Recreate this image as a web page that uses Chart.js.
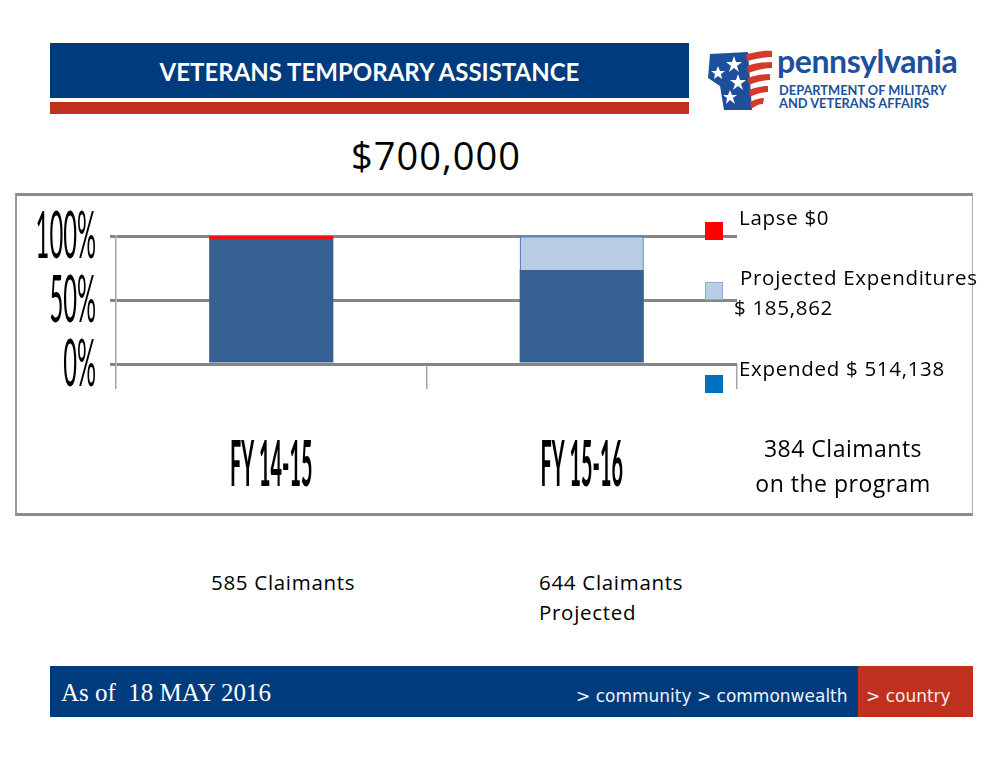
<!DOCTYPE html>
<html>
<head>
<meta charset="utf-8">
<script src="https://cdn.jsdelivr.net/npm/chart.js@4.4.1/dist/chart.umd.min.js"></script>
<style>
body{margin:0;width:1008px;height:768px;position:relative;background:#fff;font-family:"Open Sans",Lato,sans-serif;overflow:hidden}
.abs{position:absolute;white-space:nowrap}
#hdrBlue{left:50px;top:43px;width:639px;height:55px;background:#003b7d}
#hdrRed{left:50px;top:102px;width:639px;height:12px;background:#c0301f}
#title{left:50px;top:43px;width:639px;height:55px;line-height:57px;text-align:center;color:#fff;font-weight:bold;font-size:24px;font-family:Lato,sans-serif}
#logoTxt1{left:777px;top:41px;font-size:32px;font-weight:bold;color:#1c4f9c;letter-spacing:-0.4px;font-family:Lato,sans-serif}
#logoTxt2{left:779px;top:84px;font-size:13.5px;font-weight:bold;color:#1c4f9c;line-height:13px;transform:scaleX(0.95);transform-origin:left top;font-family:Lato,sans-serif}
#amount{left:351px;top:129px;font-size:38px;letter-spacing:1px;color:#000}
#box{left:15px;top:193px;width:955px;height:317px;border-top:3px solid #8c8c8c;border-bottom:3px solid #8c8c8c;border-left:2px solid #9a9a9a;border-right:1px solid #b0b0b0}
#wrap{left:15px;top:193px;width:957px;height:322px}
.leg{font-size:20.5px;letter-spacing:0.7px;color:#000}
.sq{width:18px;height:18px}
#claim3{left:740px;top:431px;width:206px;text-align:center;font-size:23px;letter-spacing:0.5px;line-height:35px}
.note{font-size:20.5px;letter-spacing:0.7px;line-height:30px}
#ftBlue{left:50px;top:666px;width:808px;height:51px;background:#003b7d}
#ftRed{left:858px;top:666px;width:115px;height:51px;background:#c0301f}
#asof{left:61px;top:679px;font-family:"Liberation Serif",serif;font-size:25px;color:#fff}
#crumb{left:576px;top:686px;font-size:17px;color:#eef3fb;font-family:"DejaVu Sans",sans-serif}
#country{left:866px;top:686px;font-size:17px;color:#f6ece9;font-family:"DejaVu Sans",sans-serif}
#tick{left:851px;top:664px;font-size:10px;color:#fff;font-family:"DejaVu Sans",sans-serif}
</style>
</head>
<body>
<div class="abs" id="hdrBlue"></div>
<div class="abs" id="hdrRed"></div>
<div class="abs" id="title">VETERANS TEMPORARY ASSISTANCE</div>
<svg class="abs" style="left:708px;top:48px" width="66" height="64" viewBox="0 0 66 64">
  <polygon points="2,6 40,4 44,62 16,62 12,38 0,30" fill="#1c4f9c"/>
  <path d="M38,6 C48,4 56,2 64,3 L64,9 C56,9 48,11 39,13 Z" fill="#d33a2c"/>
  <path d="M39,18 C48,15 56,14 64,14 L64,20 C56,20 48,22 40,25 Z" fill="#d33a2c"/>
  <path d="M40,30 C48,27 56,26 62,26 L62,32 C56,32 48,34 41,37 Z" fill="#d33a2c"/>
  <path d="M41,42 C48,39 54,38 60,38 L60,44 C54,44 48,46 42,49 Z" fill="#d33a2c"/>
  <path d="M42,54 C48,51 52,50 56,50 L55,56 C51,56 47,58 43,61 Z" fill="#d33a2c"/>
  <g fill="#fff">
    <polygon points="26,8 28,14 34,14 29,18 31,24 26,20 21,24 23,18 18,14 24,14"/>
    <polygon points="10,18 12,23 17,23 13,26 14,31 10,28 6,31 7,26 3,23 8,23"/>
    <polygon points="30,26 32,32 38,32 33,36 35,42 30,38 25,42 27,36 22,32 28,32"/>
    <polygon points="22,42 24,47 29,47 25,50 27,56 22,52 18,56 19,50 15,47 20,47"/>
  </g>
</svg>
<div class="abs" id="logoTxt1">pennsylvania</div>
<div class="abs" id="logoTxt2">DEPARTMENT OF MILITARY<br>AND VETERANS AFFAIRS</div>
<div class="abs" id="amount">$700,000</div>

<div class="abs" id="box"></div>
<div class="abs" id="wrap"><canvas id="myChart"></canvas></div>

<div class="abs sq" style="left:705px;top:222px;background:#ff0000"></div>
<div class="abs sq" style="left:705px;top:282px;background:#b9cde5;border:1px solid #8eaad0;width:16px;height:16px"></div>
<div class="abs sq" style="left:705px;top:375px;background:#0070c0"></div>
<div class="abs leg" style="left:739px;top:203px">Lapse $0</div>
<div class="abs leg" style="left:740px;top:263px">Projected Expenditures</div>
<div class="abs leg" style="left:734px;top:293px">$ 185,862</div>
<div class="abs leg" style="left:739px;top:354px">Expended $ 514,138</div>
<div class="abs" id="claim3">384 Claimants<br>on the program</div>

<div class="abs note" style="left:211px;top:567px">585 Claimants</div>
<div class="abs note" style="left:539px;top:567px">644 Claimants<br>Projected</div>

<div class="abs" id="ftBlue"></div>
<div class="abs" id="ftRed"></div>
<div class="abs" id="tick">`</div>
<div class="abs" id="asof">As of &nbsp;18 MAY 2016</div>
<div class="abs" id="crumb">&gt; community &gt; commonwealth</div>
<div class="abs" id="country">&gt; country</div>

<script>
var categories = ["FY 14-15", "FY 15-16"];
// share of the $700,000 budget, in percent
var expended = [97.6, 73.4];
var projected = [0, 26.6];
var lapse = [2.4, 0];
var yTickValues = [0, 50, 100];

// squeezed tall labels, like the stretched text of the slide
var squeezedLabels = {
    id: 'squeezedLabels',
    afterDraw: function(chart){
        var ctx = chart.ctx;
        var ys = chart.scales.y;
        var xs = chart.scales.x;
        ctx.save();
        ctx.fillStyle = '#000';
        ctx.font = '66px Lato';
        ctx.textBaseline = 'middle';
        ys.ticks.forEach(function(t, i){
            ctx.save();
            ctx.translate(ys.right - 20, ys.getPixelForTick(i) + 1);
            ctx.scale(0.36, 1);
            ctx.textAlign = 'right';
            ctx.fillText(t.value + '%', 0, 0);
            ctx.restore();
        });
        ctx.font = 'bold 64px Lato';
        xs.ticks.forEach(function(t, i){
            ctx.save();
            ctx.translate(xs.getPixelForTick(i), xs.bottom + 76);
            ctx.scale(0.31, 1);
            ctx.textAlign = 'center';
            ctx.fillText(categories[i], 0, 0);
            ctx.restore();
        });
        ctx.restore();
    }
};

var ctx = document.getElementById('myChart').getContext('2d');
var chart = new Chart(ctx, {
    type: 'bar',
    data: {
        labels: categories,
        datasets: [{
            label: "Expended",
            backgroundColor: '#376092',
            data: expended
        }, {
            label: "Projected Expenditures",
            backgroundColor: '#b9cde5',
            borderColor: '#5b84bd',
            borderWidth: [0, 1.5],
            data: projected
        }, {
            label: "Lapse",
            backgroundColor: '#ee1111',
            data: lapse
        }]
    },
    options: {
        responsive: true,
        maintainAspectRatio: false,
        animation: false,
        layout: {padding: {left: 95, top: 43, right: 235, bottom: 126}},
        datasets: {bar: {categoryPercentage: 0.8, barPercentage: 0.5}},
        plugins: {legend: {display: false}, tooltip: {enabled: false}},
        scales: {
            x: {
                stacked: true,
                grid: {drawOnChartArea: false, tickLength: 25, color: '#a6a6a6', lineWidth: 1.5, offset: true},
                border: {display: false},
                ticks: {display: false},
                afterFit: function(s){ s.height = 25; }
            },
            y: {
                stacked: true,
                min: 0,
                max: 100,
                grid: {color: '#868686', lineWidth: 3, tickLength: 6},
                border: {display: true, color: '#a6a6a6', width: 1.5},
                ticks: {display: false},
                afterBuildTicks: function(s){
                    s.ticks = yTickValues.map(function(v){ return {value: v}; });
                },
                afterFit: function(s){ s.width = 6; }
            }
        }
    },
    plugins: [squeezedLabels]
});
</script>
</body>
</html>
